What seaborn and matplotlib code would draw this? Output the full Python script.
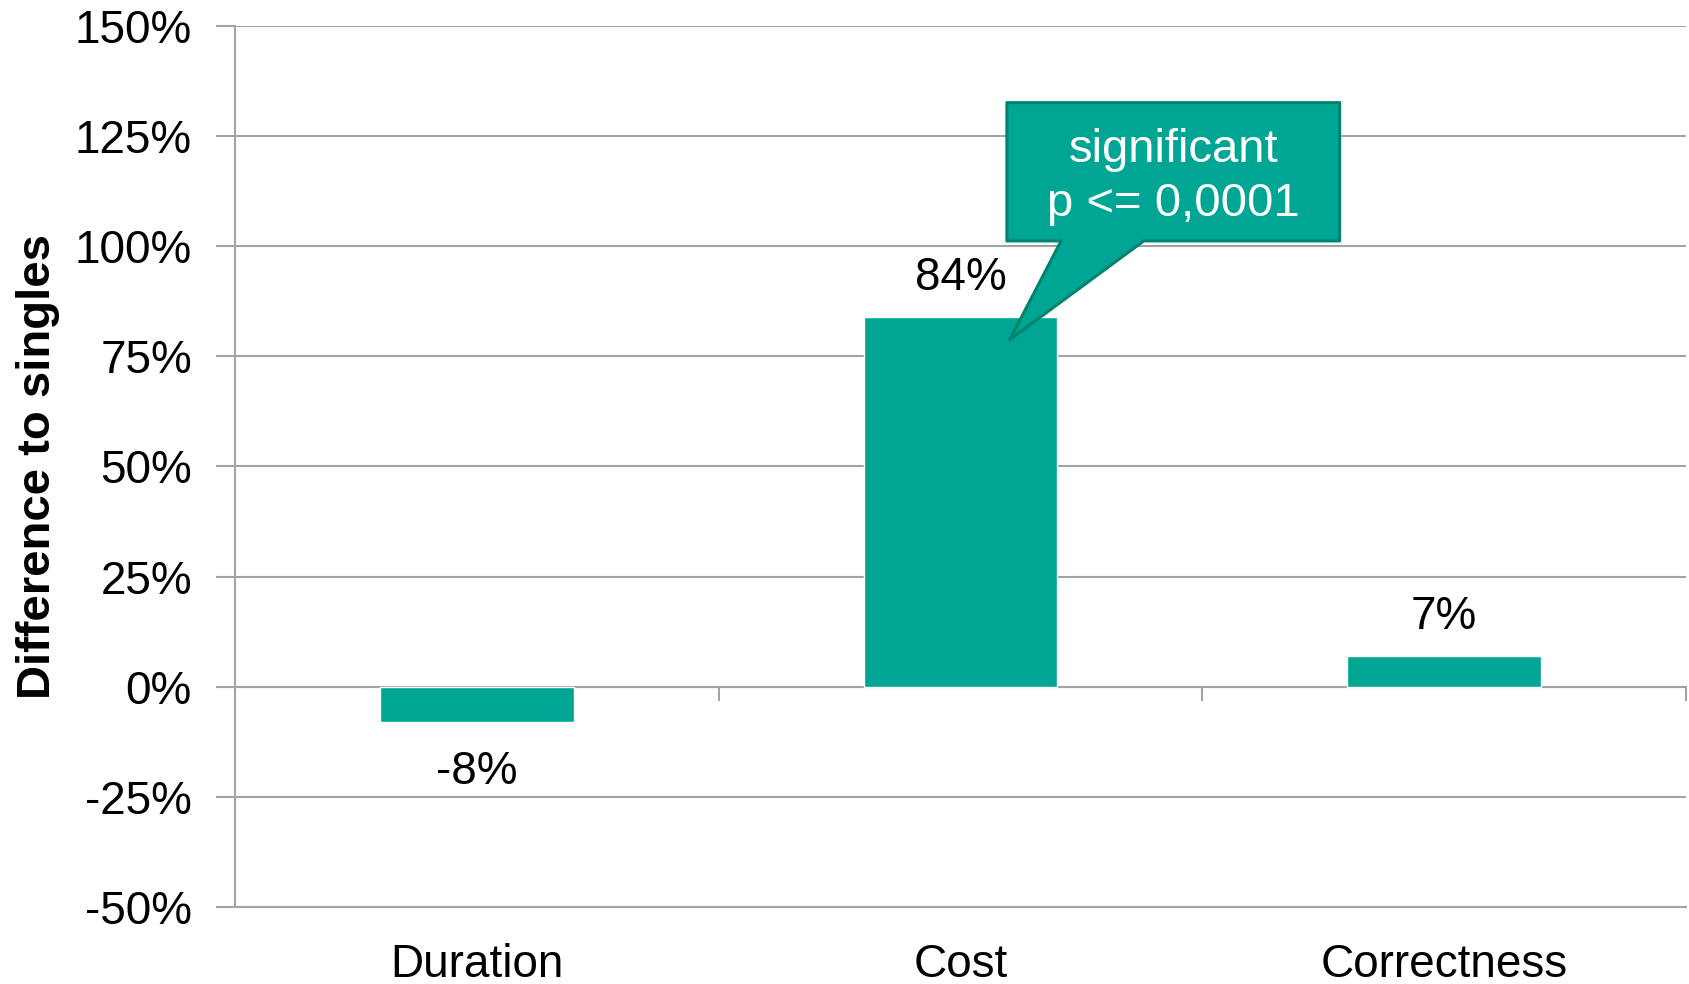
import numpy as np
import pandas as pd
import matplotlib
matplotlib.use("Agg")
import matplotlib.pyplot as plt
from matplotlib.patches import Polygon
from matplotlib.ticker import FuncFormatter
import seaborn as sns

# values
categories = ["Duration", "Cost", "Correctness"]
diff_pct = [-8, 84, 7]
bar_labels = ["-8%", "84%", "7%"]
y_ticks = [-50, -25, 0, 25, 50, 75, 100, 125, 150]
callout_text = "significant\np <= 0,0001"

teal = "#00A693"
teal_dark = "#00846F"
grey = "#A3A3A3"

sns.set_style("white")
plt.rcParams["font.family"] = ["Liberation Sans", "DejaVu Sans"]
plt.rcParams["text.color"] = "black"
plt.rcParams["axes.labelcolor"] = "black"

df = pd.DataFrame({"cat": categories, "val": diff_pct})

fig = plt.figure(figsize=(16.89, 9.84), dpi=100)
ax = fig.add_axes([0.1391, 0.0783, 0.8591, 0.8953])

sns.barplot(data=df, x="cat", y="val", color=teal, width=0.4,
            saturation=1, ax=ax, zorder=3)

ymin, ymax = -50, 150
ax.set_xlim(-0.5, 2.5)
ax.set_ylim(ymin, ymax)
ax.set_yticks(y_ticks)
ax.yaxis.set_major_formatter(FuncFormatter(lambda v, p: f"{v:.0f}%"))

ax.grid(axis="y", color=grey, lw=1.5)
ax.set_axisbelow(True)
for s in ["top", "right"]:
    ax.spines[s].set_visible(False)
for s in ["left", "bottom"]:
    ax.spines[s].set_color(grey)
    ax.spines[s].set_linewidth(1.5)

ax.tick_params(axis="y", direction="out", length=14, width=1.5, color=grey,
               pad=17, labelsize=33, labelcolor="black", left=True)
ax.tick_params(axis="x", length=0, pad=26, labelsize=33, labelcolor="black")
ax.set_xlabel("")
ax.set_ylabel("Difference to singles", fontsize=34, fontweight="bold",
              color="black")
ax.yaxis.label.set_va("center")
ax.yaxis.set_label_coords(-0.136, 0.5)

# zero line with category separators
zero = ax.secondary_xaxis((0 - ymin) / (ymax - ymin))
zero.set_xticks([0.5, 1.5, 2.5])
zero.set_xticklabels([])
zero.tick_params(direction="out", length=10, width=1.5, color=grey)
zero.spines["bottom"].set_color(grey)
zero.spines["bottom"].set_linewidth(1.5)

# value labels
for i, (v, t) in enumerate(zip(diff_pct, bar_labels)):
    if v >= 0:
        ax.annotate(t, (i, v), xytext=(0, 12), textcoords="offset points",
                    ha="center", va="bottom", fontsize=33, color="black")
    else:
        ax.annotate(t, (i, v), xytext=(0, -20), textcoords="offset points",
                    ha="center", va="top", fontsize=33, color="black")

# callout
bx0, bx1, by0, by1 = 1.096, 1.784, 101.2, 132.6
tip = (1.102, 78.8)
base_l, base_r = 1.208, 1.379
poly = Polygon([(bx0, by1), (bx1, by1), (bx1, by0), (base_r, by0), tip,
                (base_l, by0), (bx0, by0)], closed=True, facecolor=teal,
               edgecolor=teal_dark, lw=2.2, joinstyle="round", zorder=5)
ax.add_patch(poly)
ax.text((bx0 + bx1) / 2, (by0 + by1) / 2 - 1.2, callout_text, color="white",
        fontsize=34, ha="center", va="center", linespacing=1.3, zorder=6)

fig.savefig("out.png", dpi=100)
